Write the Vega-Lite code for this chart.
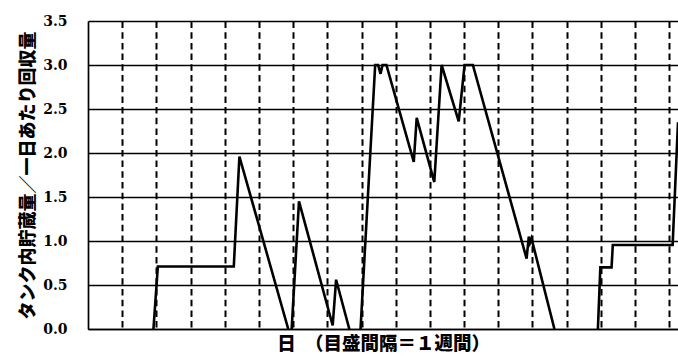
{
  "$schema": "https://vega.github.io/schema/vega-lite/v6.json",
  "width": 590,
  "height": 308,
  "autosize": {"type": "none"},
  "padding": {"left": 88, "top": 21, "right": 0, "bottom": 27},
  "background": "white",
  "config": {
    "view": {"stroke": null},
    "axis": {"domainColor": "black", "domainWidth": 1.7, "gridColor": "black", "gridOpacity": 1}
  },
  "data": {
    "values": [
      {"seg": 1, "day": 13.4, "v": 0},
      {"seg": 1, "day": 14.3, "v": 0.71},
      {"seg": 1, "day": 29.85, "v": 0.71},
      {"seg": 1, "day": 31.0, "v": 1.96},
      {"seg": 1, "day": 41.0, "v": 0},
      {"seg": 2, "day": 41.7, "v": 0},
      {"seg": 2, "day": 43.2, "v": 1.45},
      {"seg": 2, "day": 50.1, "v": 0.04},
      {"seg": 2, "day": 50.8, "v": 0.56},
      {"seg": 2, "day": 53.5, "v": 0},
      {"seg": 3, "day": 55.8, "v": 0},
      {"seg": 3, "day": 58.8, "v": 3.0},
      {"seg": 3, "day": 59.4, "v": 3.0},
      {"seg": 3, "day": 59.9, "v": 2.9},
      {"seg": 3, "day": 60.3, "v": 3.0},
      {"seg": 3, "day": 61.1, "v": 3.0},
      {"seg": 3, "day": 66.7, "v": 1.9},
      {"seg": 3, "day": 67.3, "v": 2.4},
      {"seg": 3, "day": 70.9, "v": 1.67},
      {"seg": 3, "day": 72.4, "v": 3.0},
      {"seg": 3, "day": 75.9, "v": 2.36},
      {"seg": 3, "day": 77.1, "v": 3.0},
      {"seg": 3, "day": 78.8, "v": 3.0},
      {"seg": 3, "day": 89.8, "v": 0.8},
      {"seg": 3, "day": 90.25, "v": 1.05},
      {"seg": 3, "day": 90.5, "v": 0.98},
      {"seg": 3, "day": 90.8, "v": 1.03},
      {"seg": 3, "day": 95.5, "v": 0},
      {"seg": 4, "day": 104.4, "v": 0},
      {"seg": 4, "day": 104.9, "v": 0.7},
      {"seg": 4, "day": 107.2, "v": 0.7},
      {"seg": 4, "day": 107.45, "v": 0.955},
      {"seg": 4, "day": 119.7, "v": 0.955},
      {"seg": 4, "day": 120.8, "v": 2.35}
    ]
  },
  "mark": {"type": "line", "color": "black", "strokeWidth": 2.6, "clip": true},
  "encoding": {
    "detail": {"field": "seg", "type": "nominal"},
    "x": {
      "field": "day",
      "type": "quantitative",
      "scale": {"domain": [0, 120.8], "nice": false, "zero": false},
      "axis": {
        "values": [7, 14, 21, 28, 35, 42, 49, 56, 63, 70, 77, 84, 91, 98, 105, 112, 119],
        "labels": false,
        "ticks": false,
        "grid": true,
        "gridDash": [6.5, 4.2],
        "gridWidth": 2,
        "title": "日　（目盛間隔＝１週間）",
        "titleFont": "Noto Sans CJK JP",
        "titleFontSize": 18.5,
        "titleFontWeight": 900,
        "titleColor": "black",
        "titlePadding": 5
      }
    },
    "y": {
      "field": "v",
      "type": "quantitative",
      "scale": {"domain": [0, 3.5], "nice": false},
      "axis": {
        "values": [0, 0.5, 1, 1.5, 2, 2.5, 3, 3.5],
        "format": ".1f",
        "ticks": false,
        "grid": true,
        "gridWidth": 1.6,
        "labelPadding": 21,
        "labelFont": "DejaVu Serif",
        "labelFontSize": 14,
        "labelFontWeight": "bold",
        "labelColor": "black",
        "title": "タンク内貯蔵量／一日あたり回収量",
        "titleFont": "Noto Sans CJK JP",
        "titleFontSize": 18,
        "titleFontWeight": 900,
        "titleColor": "black",
        "titlePadding": 5
      }
    }
  }
}
